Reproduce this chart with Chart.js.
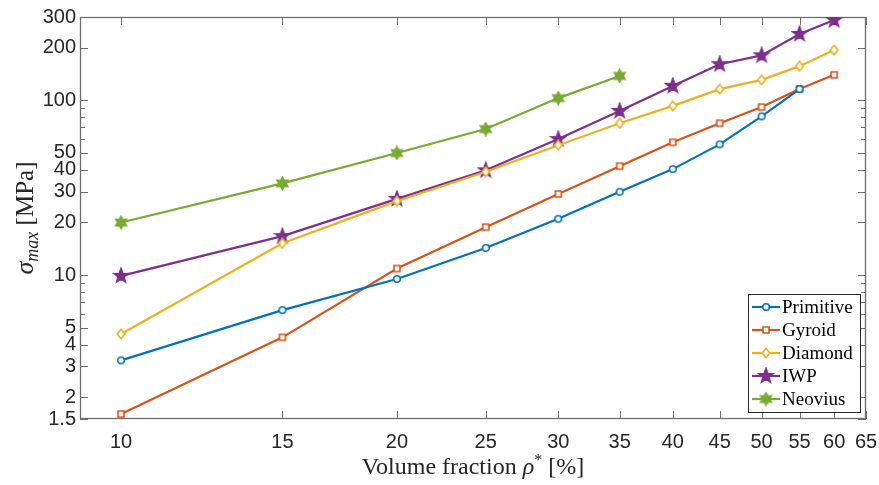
<!DOCTYPE html>
<html>
<head>
<meta charset="utf-8">
<script src="https://cdn.jsdelivr.net/npm/chart.js@4.4.1/dist/chart.umd.min.js"></script>
<style>
  html, body { margin: 0; padding: 0; background: #fff; }
</style>
</head>
<body>
<canvas id="chart" width="879" height="485"></canvas>
<script>
// Volume fraction (%) and peak stress (MPa)
const volumeFraction = [10, 15, 20, 25, 30, 35, 40, 45, 50, 55, 60];
const primitive = [3.25, 6.3, 9.5, 14.3, 21, 30, 40.4, 56, 81, 116];
const gyroid = [1.6, 4.4, 10.9, 18.8, 29.1, 42, 57.5, 74, 91.5, 116, 140];
const diamond = [4.6, 15.2, 26.5, 39, 55.4, 74, 93, 116, 131, 157, 194];
const iwp = [9.9, 16.7, 27.3, 39.8, 60, 87, 121, 161, 181, 240, 288];
const neovius = [20, 33.5, 50, 68.5, 103, 138];

const xTicks = [10, 15, 20, 25, 30, 35, 40, 45, 50, 55, 60, 65];
const yTicks = [1.5, 2, 3, 4, 5, 10, 20, 30, 40, 50, 100, 200, 300];
const yMinorTicks = [6, 7, 8, 9, 60, 70, 80, 90];

const SANS = '"Liberation Sans", Arial, sans-serif';
const SERIF = '"Liberation Serif", "DejaVu Serif", serif';
const AXIS = '#262626';

/**
 * Build a marker image (MATLAB-like markers)
 */
function marker(kind, color) {
    const size = { circle: 10, square: 10, diamond: 12, star: 18, hexagram: 15 }[kind];
    const c = document.createElement('canvas');
    c.width = size;
    c.height = size;
    const g = c.getContext('2d');
    const m = size / 2;
    g.beginPath();
    if (kind === 'circle') {
        g.arc(m, m, 3.3, 0, Math.PI * 2);
    } else if (kind === 'square') {
        g.rect(m - 3, m - 3, 6, 6);
    } else if (kind === 'diamond') {
        g.moveTo(m, m - 4.8);
        g.lineTo(m + 3.8, m);
        g.lineTo(m, m + 4.8);
        g.lineTo(m - 3.8, m);
        g.closePath();
    } else {
        const n = kind === 'star' ? 5 : 6;
        const R = kind === 'star' ? 7.5 : 6.2;
        const r = kind === 'star' ? 3.1 : 3.5;
        for (let i = 0; i < 2 * n; i++) {
            const a = -Math.PI / 2 + i * Math.PI / n;
            const rr = i % 2 === 0 ? R : r;
            g.lineTo(m + rr * Math.cos(a), m + rr * Math.sin(a));
        }
        g.closePath();
    }
    const open = kind === 'circle' || kind === 'square' || kind === 'diamond';
    g.fillStyle = open ? '#ffffff' : color;
    g.fill();
    g.strokeStyle = color;
    g.lineWidth = 1.6;
    g.stroke();
    return c;
}

const series = [
    { label: 'Primitive', values: primitive, color: '#0072BD', kind: 'circle' },
    { label: 'Gyroid', values: gyroid, color: '#D95319', kind: 'square' },
    { label: 'Diamond', values: diamond, color: '#EDB120', kind: 'diamond' },
    { label: 'IWP', values: iwp, color: '#7E2F8E', kind: 'star' },
    { label: 'Neovius', values: neovius, color: '#77AC30', kind: 'hexagram' }
];
series.forEach(s => { s.img = marker(s.kind, s.color); });

// axes box with inward ticks on all four sides
const framePlugin = {
    id: 'frame',
    beforeDatasetsDraw(chart) {
        const { ctx, chartArea: a, scales: { x, y } } = chart;
        ctx.save();
        ctx.strokeStyle = '#6e6e6e';
        ctx.lineWidth = 1;
        ctx.beginPath();
        xTicks.forEach(v => {
            const px = Math.round(x.getPixelForValue(v)) + 0.5;
            ctx.moveTo(px, a.bottom); ctx.lineTo(px, a.bottom - 8);
            ctx.moveTo(px, a.top); ctx.lineTo(px, a.top + 8);
        });
        yTicks.forEach(v => {
            const py = Math.round(y.getPixelForValue(v)) + 0.5;
            ctx.moveTo(a.left, py); ctx.lineTo(a.left + 8, py);
            ctx.moveTo(a.right, py); ctx.lineTo(a.right - 8, py);
        });
        yMinorTicks.forEach(v => {
            const py = Math.round(y.getPixelForValue(v)) + 0.5;
            ctx.moveTo(a.left, py); ctx.lineTo(a.left + 5, py);
            ctx.moveTo(a.right, py); ctx.lineTo(a.right - 5, py);
        });
        ctx.stroke();
        ctx.lineWidth = 1.3;
        ctx.strokeRect(a.left + 0.5, a.top + 0.5, a.right - a.left - 1, a.bottom - a.top - 1);
        ctx.restore();
    }
};

function drawParts(ctx, parts, x0, y0) {
    let x = x0;
    parts.forEach(p => {
        ctx.font = p.font;
        ctx.fillText(p.text, x, y0 + (p.dy || 0));
        x += ctx.measureText(p.text).width;
    });
}
function partsWidth(ctx, parts) {
    return parts.reduce((w, p) => { ctx.font = p.font; return w + ctx.measureText(p.text).width; }, 0);
}

// axis titles with sub/superscripts
const titlesPlugin = {
    id: 'titles',
    afterDraw(chart) {
        const { ctx, chartArea: a } = chart;
        ctx.save();
        ctx.fillStyle = AXIS;
        ctx.textBaseline = 'alphabetic';
        ctx.textAlign = 'left';

        const xParts = [
            { text: 'Volume fraction ', font: '24px ' + SERIF },
            { text: 'ρ', font: 'italic 24px ' + SERIF },
            { text: '*', font: '16px ' + SERIF, dy: -9 },
            { text: ' [%]', font: '24px ' + SERIF }
        ];
        const xw = partsWidth(ctx, xParts);
        drawParts(ctx, xParts, (a.left + a.right) / 2 - xw / 2, 474);

        const yParts = [
            { text: 'σ', font: 'italic 26px ' + SERIF },
            { text: 'max', font: 'italic 18px ' + SERIF, dy: 5 },
            { text: ' [MPa]', font: '25px ' + SERIF }
        ];
        const yw = partsWidth(ctx, yParts);
        ctx.translate(33, (a.top + a.bottom) / 2);
        ctx.rotate(-Math.PI / 2);
        drawParts(ctx, yParts, -yw / 2, 0);
        ctx.restore();
    }
};

// legend box in lower right corner of the axes
const legendPlugin = {
    id: 'boxLegend',
    afterDraw(chart) {
        const { ctx } = chart;
        ctx.save();
        ctx.fillStyle = '#ffffff';
        ctx.fillRect(748, 294, 113, 119);
        ctx.strokeStyle = AXIS;
        ctx.lineWidth = 1;
        ctx.strokeRect(748.5, 294.5, 112, 118);
        series.forEach((s, i) => {
            const yy = 307 + i * 23;
            ctx.strokeStyle = s.color;
            ctx.lineWidth = 2.2;
            ctx.beginPath();
            ctx.moveTo(752, yy);
            ctx.lineTo(780, yy);
            ctx.stroke();
            ctx.drawImage(s.img, 766 - s.img.width / 2, yy - s.img.height / 2);
            ctx.fillStyle = '#000';
            ctx.font = '19px ' + SERIF;
            ctx.textBaseline = 'middle';
            ctx.fillText(s.label, 782, yy + 1);
        });
        ctx.restore();
    }
};

new Chart(document.getElementById('chart'), {
    type: 'line',
    data: {
        datasets: series.map(s => ({
            label: s.label,
            data: s.values.map((v, i) => ({ x: volumeFraction[i], y: v })),
            borderColor: s.color,
            backgroundColor: s.color,
            borderWidth: 2.2,
            pointStyle: s.img,
            pointRadius: 4,
            pointHoverRadius: 4,
            tension: 0,
            fill: false
        }))
    },
    options: {
        responsive: false,
        animation: false,
        devicePixelRatio: 1,
        layout: { padding: { top: 17, right: 13, left: 0, bottom: 0 } },
        plugins: { legend: { display: false }, tooltip: { enabled: false } },
        scales: {
            x: {
                type: 'logarithmic',
                min: 9.02,
                max: 65,
                afterBuildTicks: s => { s.ticks = xTicks.map(v => ({ value: v })); },
                afterFit: s => { s.height = 66; s.paddingLeft = 0; s.paddingRight = 0; },
                grid: { display: false, drawTicks: false },
                border: { display: false },
                ticks: {
                    autoSkip: false,
                    maxRotation: 0,
                    padding: 11,
                    color: AXIS,
                    font: { family: SANS, size: 20 },
                    callback: v => String(v)
                }
            },
            y: {
                type: 'logarithmic',
                min: 1.5,
                max: 300,
                afterBuildTicks: s => { s.ticks = yTicks.map(v => ({ value: v })); },
                afterFit: s => { s.width = 80; s.paddingTop = 0; s.paddingBottom = 0; },
                grid: { display: false, drawTicks: false },
                border: { display: false },
                ticks: {
                    autoSkip: false,
                    padding: 4,
                    color: AXIS,
                    font: { family: SANS, size: 20 },
                    callback: v => String(v)
                }
            }
        }
    },
    plugins: [framePlugin, titlesPlugin, legendPlugin]
});
</script>
</body>
</html>
